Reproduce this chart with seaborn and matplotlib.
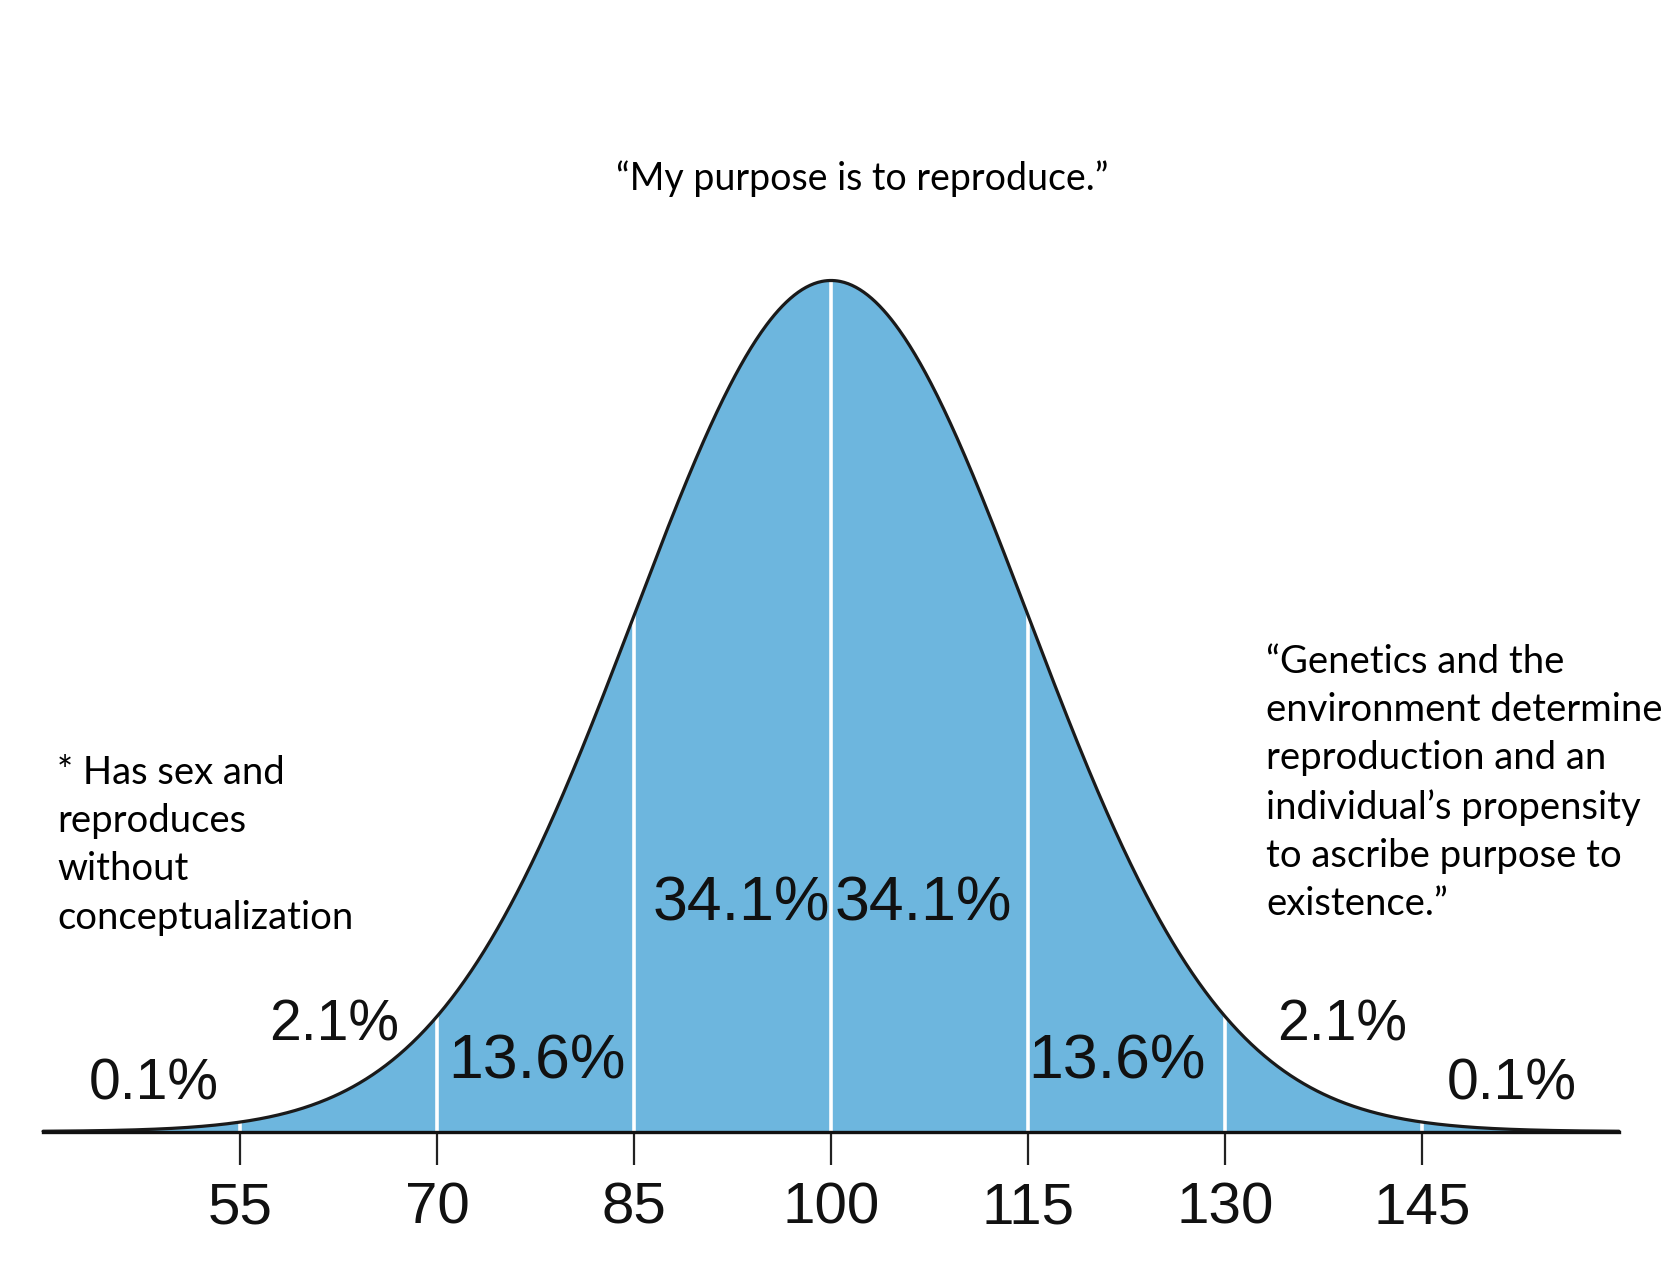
import numpy as np
import matplotlib
matplotlib.use("Agg")
import matplotlib.pyplot as plt
import seaborn as sns

# ----------------------------------
# Chart values
# ----------------------------------
mean_iq = 100
sd_iq = 15
x_start, x_end = 40, 160
tick_values = [55, 70, 85, 100, 115, 130, 145]
tick_labels = ["55", "70", "85", "100", "115", "130", "145"]

pct_labels = ["0.1%", "2.1%", "13.6%", "34.1%", "34.1%", "13.6%", "2.1%", "0.1%"]
pct_x = [48.4, 62.2, 77.6, 93.2, 107.0, 121.8, 138.9, 151.8]
pct_y = [0.055, 0.125, 0.082, 0.267, 0.267, 0.082, 0.125, 0.055]
pct_size = [41, 41, 45, 45, 45, 45, 41, 41]

title_text = "\u201cMy purpose is to reproduce.\u201d"
left_text = "* Has sex and\nreproduces\nwithout\nconceptualization"
right_text = ("\u201cGenetics and the\nenvironment determine\nreproduction and an\n"
              "individual\u2019s propensity\nto ascribe purpose to\nexistence.\u201d")

# normal density scaled so the peak is 1
xs = np.linspace(x_start, x_end, 1201)
dens = np.exp(-0.5 * ((xs - mean_iq) / sd_iq) ** 2)
tick_dens = np.exp(-0.5 * ((np.array(tick_values) - mean_iq) / sd_iq) ** 2)

sns.set_style("white")
num_font = ["Liberation Sans Narrow", "Liberation Sans", "DejaVu Sans"]
txt_font = ["Lato", "Open Sans", "DejaVu Sans"]

fig = plt.figure(figsize=(16.77, 12.63), dpi=100)
ax = fig.add_axes([0, 0, 1, 1])

ax.fill_between(xs, 0, dens, color="#6db6de", linewidth=0)
ax.vlines(tick_values, 0, tick_dens, color="white", linewidth=2.6)
sns.lineplot(x=xs, y=dens, color="#1a1a1a", linewidth=2.3, ax=ax)

ax.set_xlim(36.72, 164.42)
ax.set_ylim(-0.1545, 1.3296)

for s in ["top", "left", "right"]:
    ax.spines[s].set_visible(False)
ax.spines["bottom"].set_position(("data", 0))
ax.spines["bottom"].set_bounds(x_start, x_end)
ax.spines["bottom"].set_linewidth(2.4)
ax.spines["bottom"].set_color("#111111")

ax.set_yticks([])
ax.set_xticks(tick_values)
ax.set_xticklabels(tick_labels, family=num_font, fontsize=42, color="#111111")
ax.tick_params(axis="x", direction="out", length=24, width=1.6, color="#222222",
               pad=12, bottom=True)

for lbl, xv, yv, fs in zip(pct_labels, pct_x, pct_y, pct_size):
    ax.text(xv, yv, lbl, ha="center", va="center", fontsize=fs,
            family=num_font, color="#111111")

fig.text(862 / 1677, 1 - 179 / 1263, title_text, ha="center", va="center",
         fontsize=27, family=txt_font, color="black")
fig.text(57 / 1677, 1 - 755 / 1263, left_text, ha="left", va="top",
         fontsize=27.5, family=txt_font, color="black", linespacing=1.42)
fig.text(1266 / 1677, 1 - 644 / 1263, right_text, ha="left", va="top",
         fontsize=27.5, family=txt_font, color="black", linespacing=1.42)

fig.savefig("out.png", dpi=100, facecolor="white")
